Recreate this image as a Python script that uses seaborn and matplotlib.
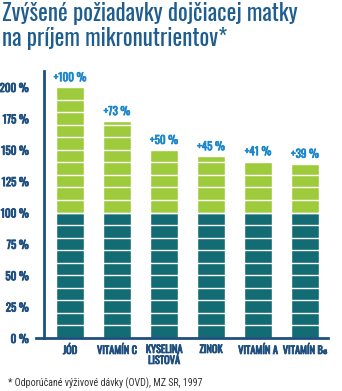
import matplotlib
matplotlib.use("Agg")
import matplotlib.pyplot as plt
import matplotlib.patheffects as pe
import seaborn as sns
import pandas as pd

categories = ["JÓD", "VITAMÍN C", "KYSELINA\nLISTOVÁ", "ZINOK", "VITAMÍN A", "VITAMÍN B₆"]
base = [100, 100, 100, 100, 100, 100]
increase = [100, 73, 50, 45, 41, 39]
yticks = [0, 25, 50, 75, 100, 125, 150, 175, 200]
ytick_labels = ["0 %", "25 %", "50 %", "75 %", "100 %", "125 %", "150 %", "175 %", "200 %"]

GREEN = "#9ecb3b"
TEAL = "#136c73"
DARK = "#1f4f7e"
TITLE = "#1e5d8f"
VAL = "#1b86cc"
FAM = ["Oswald", "DejaVu Sans"]
FOOT = ["Roboto Condensed", "DejaVu Sans"]

sns.set_theme(style="white")
plt.rcParams["font.family"] = FAM

df = pd.DataFrame({"cat": categories, "base": base,
                   "total": [b + i for b, i in zip(base, increase)]})

fig = plt.figure(figsize=(3.42, 3.91), dpi=100)
W, H = 342, 391
left_px, right_px, top_px, bot_px = 36, 328, 71, 338
ax = fig.add_axes([left_px / W, 1 - bot_px / H, (right_px - left_px) / W, (bot_px - top_px) / H])

sns.barplot(data=df, x="cat", y="total", color=GREEN, saturation=1, width=0.6, ax=ax)
n_green = len(ax.patches)
sns.barplot(data=df, x="cat", y="base", color=TEAL, saturation=1, width=0.6, ax=ax)

for p, tot, inc in zip(ax.patches[:n_green], df["total"], increase):
    x0 = p.get_x()
    x1 = x0 + p.get_width()
    y = 10
    while y < tot:
        ax.hlines(y, x0, x1, color="white", lw=1.0, zorder=5)
        y += 10
    ax.text(x0 + p.get_width() / 2, tot + 3, f"+{inc} %", ha="center", va="bottom",
            color=VAL, fontsize=8, fontweight="bold", family=FAM,
            path_effects=[pe.withStroke(linewidth=0.5, foreground=VAL)])

ax.set_xlim((left_px - 70) / 47, (right_px - 70) / 47)
ax.set_ylim(0, (bot_px - top_px) / 1.255)
ax.set_xlabel("")
ax.set_ylabel("")
ax.set_yticks(yticks)
ax.set_yticklabels(ytick_labels)
for sp in ["top", "right"]:
    ax.spines[sp].set_visible(False)
ax.spines["left"].set_position(("data", (44 - 70) / 47))
ax.spines["left"].set_color(DARK)
ax.spines["left"].set_linewidth(2)
ax.spines["bottom"].set_color(DARK)
ax.spines["bottom"].set_linewidth(2)
ax.tick_params(axis="y", length=0, pad=11, labelsize=8, labelcolor=DARK)
ax.tick_params(axis="x", length=0, pad=5, labelsize=7.5, labelcolor=DARK)
for lab in ax.get_yticklabels() + ax.get_xticklabels():
    lab.set_fontweight("bold")
    lab.set_path_effects([pe.withStroke(linewidth=0.6, foreground=DARK)])
for lab in ax.get_xticklabels():
    lab.set_linespacing(1.0)
    lab.set_va("top")

fig.text(2 / W, 1 - 21 / H, "Zvýšené požiadavky dojčiacej matky", color=TITLE,
         fontsize=16.5, family=FAM, fontweight="medium", ha="left", va="baseline")
fig.text(2 / W, 1 - 46 / H, "na príjem mikronutrientov*", color=TITLE,
         fontsize=16.5, family=FAM, fontweight="medium", ha="left", va="baseline")
fig.text(8 / W, 1 - 383 / H, "* Odporúčané výživové dávky (OVD), MZ SR, 1997", color="#333333",
         fontsize=7.2, family=FOOT, ha="left", va="center")

fig.savefig("out.png", dpi=100)
